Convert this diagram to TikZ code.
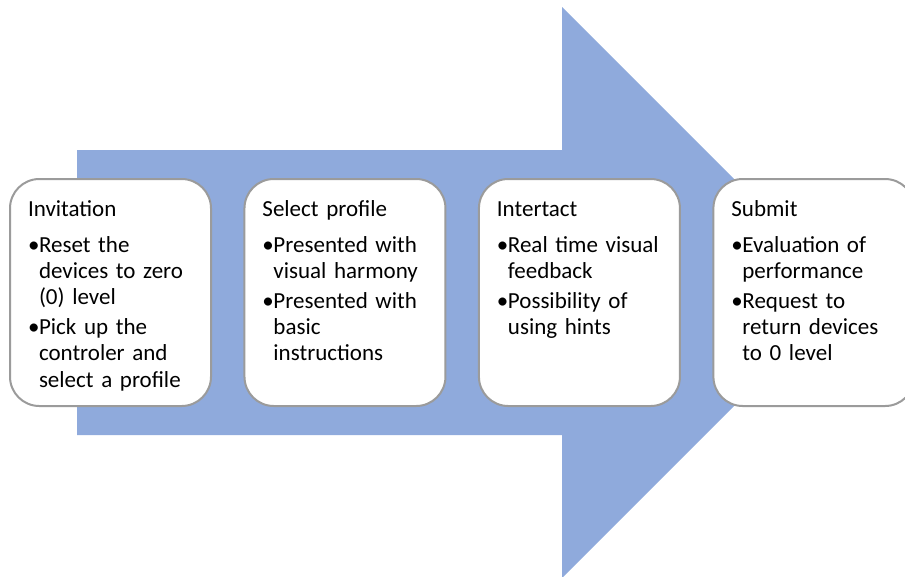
\documentclass[tikz,border=0pt]{standalone}
\usepackage{fontspec}
\setmainfont{Carlito}
\usepackage{tikz}
\usetikzlibrary{
    positioning,                      % right=of, below right=of
    arrows.meta
}
\definecolor{arrow_blue}{HTML}{8FAADC}
\definecolor{stage_line}{RGB}{155,155,155}
\tikzset{
    stage/.style={
        rectangle, draw=stage_line, line width=1.5pt, fill=white,
        rounded corners=22pt, outer sep=0pt, inner sep=0pt,
        minimum width=150.75pt, minimum height=170.25pt
    },
    stagetxt/.style={
        inner sep=0pt, outer sep=0pt, text width=128pt, align=left,
        font=\fontsize{17.25}{19.7}\selectfont
    }
}
% titulo y viñeta de cada etapa
\newcommand{\stagetitle}[1]{\noindent\rule{0pt}{13pt}#1\par\vspace{4.5pt}}
\newcommand{\stageitem}[1]{\par\vspace{2.8pt}\begingroup
    \def\\{\hfil\break}\hangindent=8.25pt\hangafter=1
    \noindent\makebox[8.25pt][l]{\textbullet}#1\par\endgroup}

\begin{document}
\begin{tikzpicture}[x=0.75pt, y=-0.75pt, node distance=25.1pt]

        \useasboundingbox (0,0) rectangle (905,576);

        % Flecha de fondo
        \fill[arrow_blue] (77,150) -- (562,150) -- (562,7) -- (847.5,292.5)
            -- (562,578) -- (562,435) -- (77,435) -- cycle;

        % Etapas
        \node[stage, anchor=north west] (inv) at (10,179) {};
        \node[stage, right=of inv] (sel) {};
        \node[stage, right=of sel] (act) {};
        \node[stage, right=of act] (sub) {};

        % Textos
        \node[stagetxt, below right=14.8pt and 13.5pt of inv.north west] (invtxt) {%
            \stagetitle{Invitation}
            \stageitem{Reset the\\devices to zero\\(0) level}
            \stageitem{Pick up the\\controler and\\select a profile}};
        \node[stagetxt, below right=14.8pt and 13.5pt of sel.north west] (seltxt) {%
            \stagetitle{Select profile}
            \stageitem{Presented with\\visual harmony}
            \stageitem{Presented with\\basic\\instructions}};
        \node[stagetxt, below right=14.8pt and 13.5pt of act.north west] (acttxt) {%
            \stagetitle{Intertact}
            \stageitem{Real time visual\\feedback}
            \stageitem{Possibility of\\using hints}};
        \node[stagetxt, below right=14.8pt and 13.5pt of sub.north west] (subtxt) {%
            \stagetitle{Submit}
            \stageitem{Evaluation of\\performance}
            \stageitem{Request to\\return devices\\to 0 level}};

    \end{tikzpicture}
\end{document}
